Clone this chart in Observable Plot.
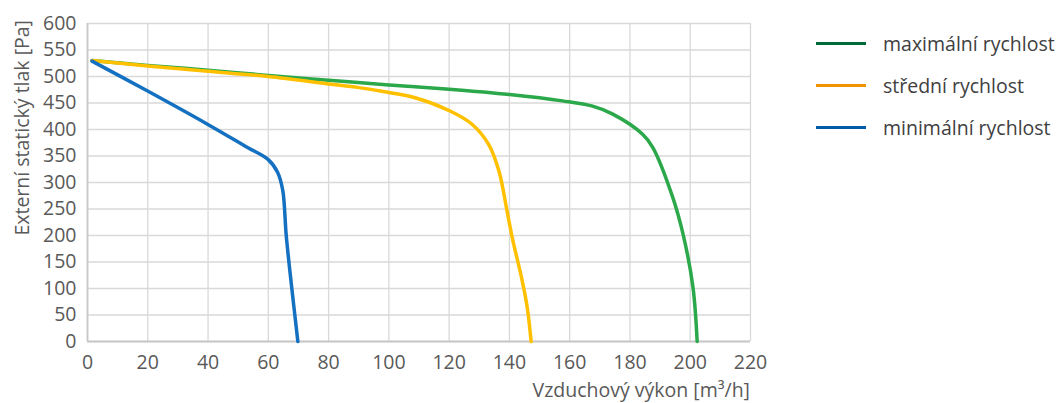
<!DOCTYPE html>
<html>
<head>
<meta charset="utf-8">
<script src="https://cdn.jsdelivr.net/npm/d3@7"></script>
<script src="https://cdn.jsdelivr.net/npm/@observablehq/plot@0.6"></script>
<style>
  body { margin: 0; background: #fff; }
  #wrap { position: relative; width: 1063px; height: 403px; font-family: "Open Sans", sans-serif; color: #595959; }
  #chart { position: absolute; left: 0; top: 0; }
  #legend { position: absolute; left: 816px; top: 22px; }
  .item { display: flex; align-items: center; height: 42px; font-size: 19.5px; color: #404040; white-space: nowrap; }
  .swatch { width: 50px; height: 3px; margin-right: 17px; flex: none; }
</style>
</head>
<body>
<div id="wrap"><div id="chart"></div><div id="legend"></div></div>
<script>
const seriesNames = ["maximální rychlost", "střední rychlost", "minimální rychlost"];
const lineColors = ["#2ba84a", "#ffc000", "#1470c0"];
const legendColors = ["#006b3a", "#f39200", "#005ca9"];

const maxX = [1.5, 20, 40, 60, 80, 100, 120, 140, 157.6, 167.6, 174.3, 184.2, 187.6, 194.2, 197.6, 200.9, 202.3];
const maxY = [530, 521, 512, 502, 493, 484, 476, 466, 454, 444, 429, 391, 366, 272, 203, 103, 0];

const midX = [1.5, 20, 40, 60, 80, 90, 97.6, 108.7, 120.3, 127.6, 133.1, 136.5, 139.2, 140.9, 144.2, 145.9, 147.2];
const midY = [530, 520, 510, 500, 486, 479, 472, 460, 435, 410, 372, 322, 247, 197, 116, 65, 0];

const minX = [1.5, 19.8, 39.8, 53.1, 59.8, 63.1, 64.8, 65.9, 67, 69.8];
const minY = [529, 473, 410, 366, 344, 319, 285, 203, 141, 0];

const xTicks = [0, 20, 40, 60, 80, 100, 120, 140, 160, 180, 200, 220];
const yTicks = [0, 50, 100, 150, 200, 250, 300, 350, 400, 450, 500, 550, 600];

const xTitle = "Vzduchový výkon [m³/h]";
const yTitle = "Externí statický tlak [Pa]";

function rows(xs, ys, s) { return xs.map((x, i) => ({x, y: ys[i], s})); }
const data = [
  ...rows(maxX, maxY, seriesNames[0]),
  ...rows(midX, midY, seriesNames[1]),
  ...rows(minX, minY, seriesNames[2])
];

const chart = Plot.plot({
  width: 790,
  height: 403,
  marginLeft: 87,
  marginRight: 40,
  marginTop: 23,
  marginBottom: 62,
  style: { fontFamily: "Open Sans, sans-serif", fontSize: "19.5px", color: "#595959", background: "transparent", overflow: "visible" },
  x: { domain: [0, 220] },
  y: { domain: [0, 600] },
  color: { domain: seriesNames, range: lineColors },
  marks: [
    Plot.gridX(xTicks, { stroke: "#d9d9d9", strokeOpacity: 1, strokeWidth: 1.3 }),
    Plot.gridY(yTicks, { stroke: "#d9d9d9", strokeOpacity: 1, strokeWidth: 1.3 }),
    Plot.ruleX([0], { stroke: "#c8c8c8", strokeWidth: 1.8 }),
    Plot.ruleY([0], { stroke: "#c8c8c8", strokeWidth: 1.8 }),
    Plot.axisX({ ticks: xTicks, tickSize: 0, tickPadding: 14, label: null, fill: "#595959" }),
    Plot.axisY({ ticks: yTicks, tickSize: 0, tickPadding: 11, label: null, fill: "#595959" }),
    Plot.line(data, { x: "x", y: "y", z: "s", stroke: "s", strokeWidth: 3.5, curve: "catmull-rom", strokeLinecap: "round", strokeLinejoin: "round" })
  ]
});
document.getElementById("chart").appendChild(chart);

const svg = d3.select(chart);
svg.append("text")
  .attr("x", 750).attr("y", 397)
  .attr("text-anchor", "end")
  .attr("fill", "#595959")
  .style("font-size", "19.5px")
  .text(xTitle);
svg.append("text")
  .attr("transform", "translate(29,20) rotate(-90)")
  .attr("text-anchor", "end")
  .attr("fill", "#595959")
  .style("font-size", "19.5px")
  .text(yTitle);

const legend = d3.select("#legend");
seriesNames.forEach((name, i) => {
  const item = legend.append("div").attr("class", "item");
  item.append("div").attr("class", "swatch").style("background", legendColors[i]);
  item.append("span").text(name);
});
</script>
</body>
</html>
